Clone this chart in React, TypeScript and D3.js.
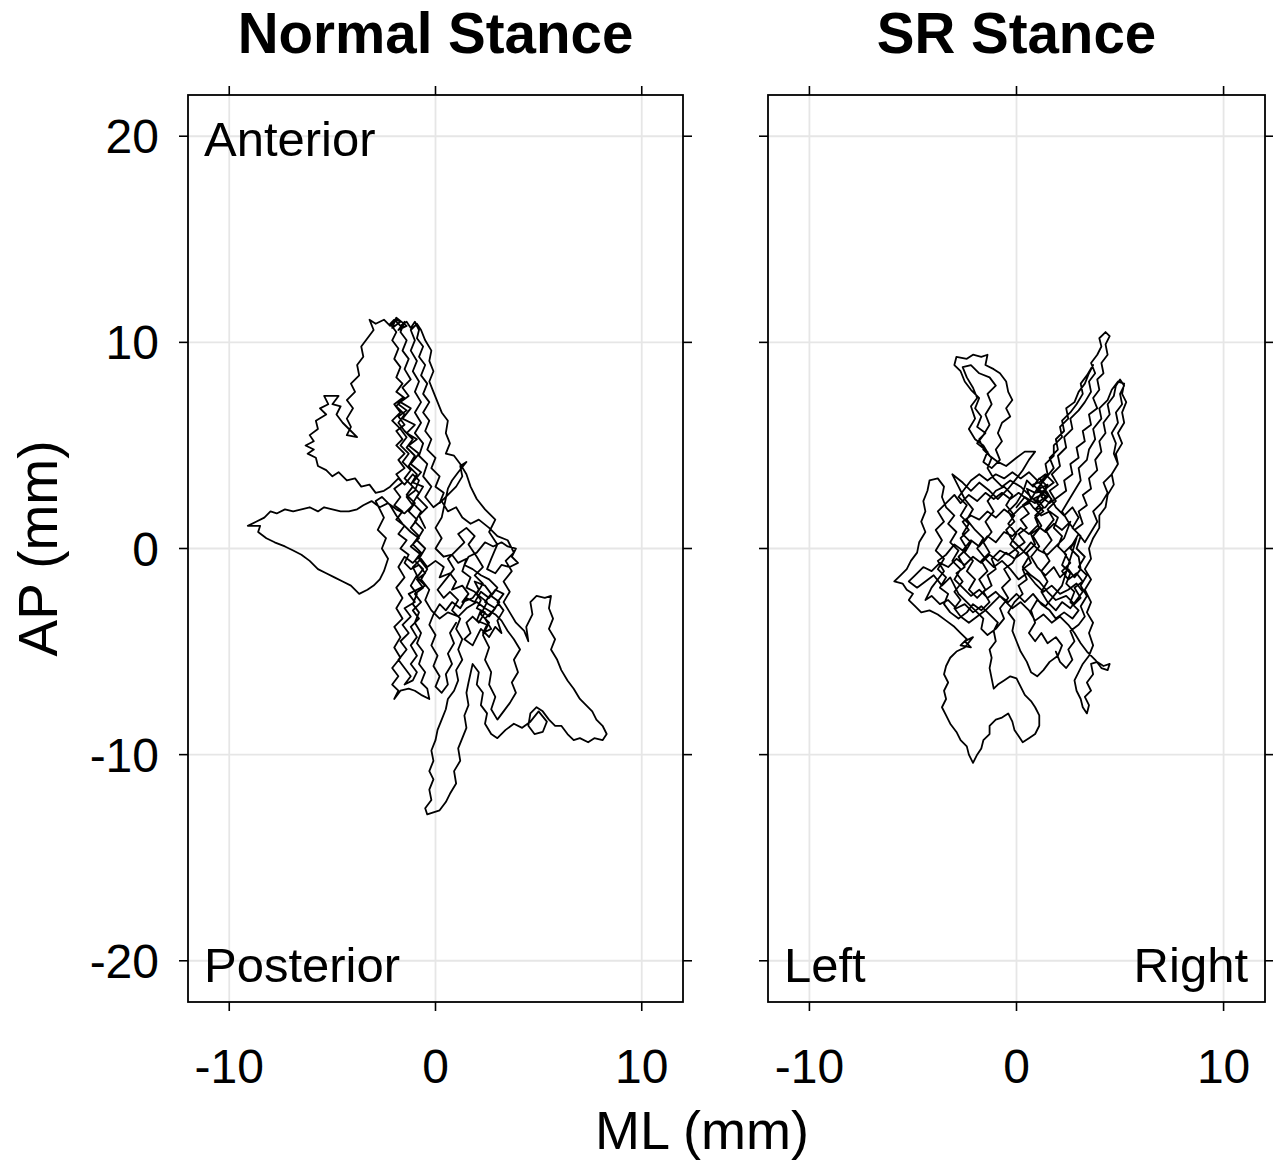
import React from 'react';
import * as d3 from 'd3';

// ---------- data (mm) ----------
const panelTitles = ['Normal Stance', 'SR Stance'];
const xTicks = [-10, 0, 10];
const yTicks = [-20, -10, 0, 10, 20];
const xDomain: [number, number] = [-12, 12];
const yDomain: [number, number] = [-22, 22];
const xAxisTitle = 'ML (mm)';
const yAxisTitle = 'AP (mm)';
const normalCornerLabels = ['Anterior', 'Posterior'];
const srCornerLabels = ['Left', 'Right'];

// centre-of-pressure trace, normal stance (ML, AP)
const normalStanceTrace: [number, number][] = [
  [-0.5,1.0],[-0.8,1.6],[-0.4,2.0],[-0.9,2.5],[-0.6,3.0],[-1.1,3.2],[-0.7,3.7],[-1.2,4.1],[-0.8,4.6],[-1.3,5.0],[-0.9,5.3],[-1.4,5.6],[-1.0,6.0],[-1.6,6.3],[-1.2,6.8],[-1.7,7.1],[-1.3,7.4],[-1.6,7.8],[-1.2,8.2],[-1.5,8.7],[-1.3,9.2],[-1.6,9.6],[-1.4,10.1],[-1.7,10.5],[-1.5,11.0],[-1.8,10.6],[-1.4,10.8],[-1.9,11.2],[-2.1,10.7],[-1.7,11.0],[-1.9,11.1],[-2.2,10.8],[-2.5,11.1],[-2.9,10.9],[-3.2,11.1],[-3.0,10.6],[-3.3,10.2],[-3.6,9.8],[-3.5,9.3],[-3.8,8.9],[-3.7,8.4],[-4.1,8.0],[-3.9,7.6],[-4.3,7.2],[-4.0,6.8],[-4.3,6.3],[-4.1,5.9],[-4.3,5.5],[-3.8,5.4],[-4.1,5.7],[-4.5,6.1],[-4.8,6.5],[-4.6,6.9],[-5.0,7.0],[-4.7,7.4],[-5.4,7.4],[-5.2,7.0],[-5.6,6.8],[-5.3,6.5],[-5.8,6.2],[-5.7,5.8],[-6.1,5.5],[-5.9,5.2],[-6.3,5.0],[-5.9,4.8],[-6.2,4.6],[-5.8,4.4],[-5.7,4.0],[-5.3,3.8],[-5.0,3.5],[-4.7,3.7],[-4.3,3.3],[-3.9,3.4],[-3.6,3.0],[-3.2,3.1],[-2.9,2.7],[-2.5,2.8],[-2.2,3.0],[-1.8,3.4],[-1.5,3.1],[-1.1,3.6],[-0.8,3.3],
  [-1.0,2.8],[-1.4,2.5],[-1.1,2.1],[-1.5,1.7],[-1.9,1.9],[-2.3,2.2],[-2.7,2.0],[-3.1,2.3],[-3.5,2.1],[-3.8,1.9],[-4.2,1.8],[-4.6,1.8],[-5.0,1.9],[-5.4,2.0],[-5.7,1.8],[-6.1,2.0],[-6.5,1.9],[-6.9,1.8],[-7.3,1.9],[-7.7,1.7],[-8.0,1.8],[-8.3,1.5],[-8.7,1.3],[-9.1,1.1],[-8.5,1.1],[-8.6,0.8],[-8.2,0.5],[-7.8,0.3],[-7.3,0.1],[-6.9,-0.1],[-6.5,-0.3],[-6.1,-0.6],[-5.7,-1.0],[-5.3,-1.2],[-4.9,-1.4],[-4.5,-1.6],[-4.1,-1.8],[-3.7,-2.2],[-3.3,-2.0],[-3.0,-1.8],[-2.7,-1.5],[-2.5,-1.1],[-2.3,-0.5],[-2.6,0.0],[-2.4,0.5],[-2.8,0.9],[-2.5,1.5],[-2.9,2.3],[-2.6,2.5],[-2.2,2.1],[-1.9,1.6],[-1.6,1.2],
  [-1.2,0.8],[-0.8,0.5],[-1.2,0.1],[-0.7,-0.3],[-1.1,-0.7],[-1.5,-0.4],[-1.8,-0.9],[-1.5,-1.4],[-1.9,-1.9],[-1.6,-2.4],[-1.9,-2.9],[-1.6,-3.4],[-2.0,-3.8],[-1.7,-4.3],[-2.0,-4.8],[-1.7,-5.3],[-2.1,-5.8],[-1.8,-6.2],[-2.1,-6.6],[-1.8,-6.9],[-2.0,-7.3],[-1.7,-6.9],[-1.3,-6.8],[-1.0,-6.9],[-0.7,-7.1],[-0.3,-7.3],[-0.4,-6.8],[-0.7,-6.5],[-0.5,-6.0],[-0.8,-5.6],[-0.6,-5.0],[-0.9,-4.6],[-0.7,-4.1],[-1.0,-3.6],[-0.8,-3.1],[-1.1,-2.7],[-0.9,-2.2],[-1.2,-1.8],[-0.9,-1.3],[-1.1,-0.9],[-0.7,-0.5],[-0.4,-0.9],
  [0.0,-0.6],[0.4,-0.9],[0.2,-1.4],[0.7,-1.2],[1.0,-1.6],[0.8,-2.0],[1.3,-1.8],[1.6,-2.2],[1.3,-2.6],[1.8,-2.4],[2.1,-2.0],[1.9,-1.6],[2.4,-1.8],[2.7,-2.2],[2.4,-2.6],[2.9,-2.9],[2.6,-3.3],[2.2,-3.0],[2.0,-3.5],[2.5,-3.7],[2.3,-4.1],[2.7,-3.9],[2.4,-3.4],[2.8,-3.0],[3.1,-2.6],[2.7,-2.3],[3.0,-1.9],[2.6,-1.5],[2.2,-1.3],[1.8,-1.0],[1.4,-0.8],[1.6,-0.4],[2.0,-0.2],[2.4,0.3],[2.8,0.1],[3.2,0.3],[3.5,0.1],[3.9,0.0],[3.7,-0.4],[4.0,-0.7],[3.6,-0.9],[3.2,-0.8],[2.9,-1.2],[2.5,-1.0],
  [2.7,-0.5],[3.0,0.2],[2.6,0.8],[2.9,1.4],[2.4,1.9],[2.0,2.4],[1.7,3.0],[1.5,3.6],[1.2,4.1],[0.9,4.5],[0.5,4.6],[0.7,5.1],[0.5,5.6],[0.6,6.2],[0.3,6.6],[0.1,7.1],[-0.1,7.6],[-0.3,8.1],[-0.1,8.6],[-0.3,9.1],[-0.2,9.6],[-0.5,10.1],[-0.7,10.6],[-0.9,10.9],[-1.2,10.6],[-1.0,10.1],[-1.2,9.6],[-0.9,9.1],[-1.1,8.6],[-0.8,8.1],[-1.0,7.6],[-0.7,7.1],[-1.0,6.6],[-0.7,6.1],[-1.0,5.6],[-0.6,5.1],[-0.8,4.5],[-0.4,4.1],[-0.6,3.5],[-0.2,3.0],[-0.5,2.5],[-0.1,2.0],[0.3,2.3],[0.6,1.8],[1.0,2.0],[1.3,1.5],[1.7,1.2],[2.1,1.4],[2.6,1.0],[3.0,0.6],[3.5,0.4],
  [3.8,-0.2],[3.4,-0.6],[3.7,-1.1],[3.3,-1.6],[3.6,-2.1],[3.3,-2.6],[3.6,-3.1],[3.9,-3.6],[4.3,-4.0],[4.5,-4.5],[4.4,-3.8],[4.7,-3.2],[4.6,-2.6],[4.9,-2.3],[5.3,-2.4],[5.6,-2.3],[5.5,-2.9],[5.7,-3.4],[5.5,-3.9],[5.8,-4.4],[5.6,-4.9],[5.9,-5.4],[6.1,-5.9],[6.4,-6.4],[6.7,-6.8],[7.0,-7.3],[7.3,-7.6],[7.6,-7.9],[7.8,-8.3],[8.1,-8.6],[8.3,-9.0],[8.1,-9.3],[7.7,-9.2],[7.4,-9.4],[7.0,-9.2],[6.7,-9.3],[6.4,-9.0],[6.1,-8.6],[5.8,-8.6],[5.5,-8.3],[5.2,-7.9],[4.9,-7.7],[4.6,-8.0],[4.5,-8.6],[4.8,-9.0],[5.2,-8.9],[5.4,-8.4],[5.0,-7.9],[4.6,-8.4],[4.2,-8.7],[3.8,-8.5],[3.4,-8.8],[3.0,-9.2],[2.7,-9.0],[2.4,-8.5],[2.5,-8.0],[2.2,-7.6],[2.3,-7.0],[2.0,-6.6],[2.1,-6.0],[1.8,-5.6],[1.6,-6.5],[1.5,-7.0],[1.6,-7.6],[1.4,-8.1],[1.5,-8.7],[1.3,-9.2],[1.1,-9.7],[1.2,-10.3],[0.9,-10.8],[1.0,-11.4],[0.7,-11.9],[0.5,-12.3],[0.2,-12.7],[-0.1,-12.8],[-0.4,-12.9],[-0.5,-12.6],[-0.2,-12.2],[-0.3,-11.7],[-0.1,-11.2],[-0.3,-10.8],[-0.1,-10.3],[-0.2,-9.8],[0.0,-9.3],[0.1,-8.8],[0.3,-8.3],[0.5,-7.8],[0.6,-7.3],[0.9,-6.9],[1.1,-6.4],[1.0,-5.9],[1.3,-5.4],[1.1,-4.9],[1.3,-4.4],[1.0,-3.9],[1.2,-3.4],[0.8,-3.0],[1.1,-2.5],[0.7,-2.1],
  [0.4,-2.4],[0.1,-2.0],[0.5,-1.5],[0.9,-1.0],[0.6,-0.5],[1.0,-0.1],[1.4,0.3],[1.1,0.7],[1.5,1.0],[1.9,0.6],[1.6,0.2],[2.0,-0.4],[2.3,-0.9],[1.9,-1.3],[2.3,-1.7],[2.0,-2.2],[2.5,-2.6],[2.2,-3.2],[2.6,-3.6],[2.3,-4.2],[2.6,-4.8],[2.4,-5.4],[2.7,-6.0],[2.6,-6.6],[2.9,-7.2],[2.7,-7.8],[3.0,-8.3],[3.3,-7.9],[3.6,-7.5],[3.9,-7.0],[3.7,-6.5],[4.0,-6.0],[3.8,-5.4],[4.1,-4.9],[3.8,-4.4],[3.5,-4.0],[3.2,-3.5],[2.9,-3.2],[2.4,-2.9],[2.0,-2.6],[1.5,-2.9],[1.1,-3.3],[0.6,-3.1],[0.2,-3.4],[-0.2,-3.0],[-0.5,-2.5],[-0.3,-2.0],[-0.7,-1.5],[-0.4,-1.0],[-0.8,-0.5],[-0.5,0.0],[-0.9,0.4],[-0.6,0.9],[-1.0,1.3],[-0.7,1.8],[-1.1,2.2],[-0.8,2.7],[-1.2,3.1],[-0.9,3.6],[-1.3,4.0],[-1.0,4.5],[-1.4,4.9],[-1.1,5.3],[-1.5,5.7],[-1.8,6.1],[-1.5,6.5],[-1.9,6.9],[-1.6,7.3],[-2.0,7.0],[-1.7,6.6],[-2.1,6.2],[-1.7,5.8],[-1.4,5.4],[-1.7,5.0],[-1.3,4.6],[-1.6,4.2],[-1.2,3.8],[-1.5,3.4],[-1.1,3.0],[-1.4,2.6],[-1.0,2.2],[-1.3,1.8],[-0.9,1.4],[-1.2,1.0],[-0.8,0.6],[-1.1,0.2],[-0.7,-0.2],[-1.0,-0.6],[-0.6,-1.0],[-0.9,-1.4],[-0.5,-1.8],
  [-1.3,-2.2],[-1.0,-2.6],[-1.5,-2.9],[-1.2,-3.3],[-1.6,-3.7],[-1.3,-4.1],[-1.7,-4.5],[-1.4,-4.9],[-1.8,-5.4],[-1.5,-5.8],[-1.2,-6.2],[-1.5,-6.6],[-1.1,-6.4],[-0.9,-6.0],[-1.2,-5.6],[-0.9,-5.2],[-1.2,-4.7],[-0.9,-4.3],[-1.2,-3.8],
  [-0.8,-3.4],[-1.1,-3.0],[-0.7,-2.6],[-1.0,-2.2],[-0.6,-1.9],[-0.9,-1.5],[-0.5,-1.2],[-0.8,-0.8],[-1.2,-1.0],[-1.5,-0.7],[-1.3,-0.3],[-1.7,0.0],[-1.4,0.4],[-1.8,0.7],[-1.5,1.1],[-1.9,1.4],[-1.6,1.8],[-2.0,2.1],[-1.7,2.5],[-2.0,2.9],[-1.6,3.2],[-1.9,3.6],[-1.5,3.9],[-1.8,4.3],[-1.5,4.6],[-1.9,5.0],[-1.6,5.3],[-1.9,5.7],[-1.5,6.0],[-1.8,6.4],[-1.4,6.7],[-1.8,7.0],[-1.5,7.3],[-1.9,7.6],[-1.6,8.0],[-1.9,8.3],[-1.7,8.8],[-2.0,9.2],[-1.8,9.7],[-2.1,10.1],[-1.9,10.5],[-2.2,10.9],[-2.0,11.1],[-1.7,10.8],[-1.4,11.0],[-1.2,10.7],[-1.0,11.0],[-0.8,10.6],
  [-0.9,10.2],[-0.6,9.8],[-0.8,9.3],[-0.5,8.9],[-0.7,8.4],[-0.4,8.0],[-0.6,7.5],[-0.3,7.1],[-0.6,6.6],[-0.3,6.2],[-0.5,5.7],[-0.2,5.3],[-0.4,4.8],[0.0,4.4],[-0.2,3.9],[0.2,3.5],[0.0,3.0],[0.4,2.7],[0.2,2.2],[0.6,2.6],[1.0,3.0],[1.3,3.5],[1.2,4.0],[1.5,4.2],[1.1,3.7],[0.8,3.3],[0.6,2.9],
  [0.3,1.5],[0.0,1.0],[0.3,0.5],[0.0,0.0],[0.4,-0.4],[0.8,-0.3],[1.1,-0.7],[1.5,-0.5],[1.3,-1.1],[1.7,-1.4],[1.5,-1.9],[1.9,-2.1],[2.2,-2.5],[2.0,-2.9],[2.4,-3.1],[2.1,-3.6],[1.8,-3.3],[1.5,-3.6],[1.7,-4.1],[1.4,-4.4],[1.8,-4.7],[2.0,-4.3],[2.2,-3.9],[2.6,-4.3],[2.9,-3.8],[3.2,-4.1],[3.0,-3.5],[3.3,-3.0],[3.0,-2.6],[3.3,-2.2],[2.9,-2.0],[2.6,-2.4],[2.2,-2.1],[1.9,-2.6],[1.5,-2.4],[1.2,-2.9],[0.8,-2.6],[0.5,-3.0],[0.2,-2.7],[-0.1,-3.2],[-0.3,-3.7],[0.0,-4.2],[-0.2,-4.7],[0.1,-5.2],[-0.1,-5.7],[0.2,-6.2],[0.0,-6.7],[0.3,-7.0],[0.6,-6.6],[0.5,-6.1],[0.8,-5.6],[0.6,-5.1],[0.9,-4.6],[0.7,-4.1],[1.0,-3.6],
];

// centre-of-pressure trace, SR stance (ML, AP)
const srStanceTrace: [number, number][] = [
  [0.0,2.0],[0.4,2.5],[0.9,2.2],[1.2,2.7],[0.8,3.1],[1.3,3.3],[1.0,2.8],[1.5,2.5],[1.1,2.1],[0.6,2.6],[0.2,3.0],[-0.3,3.3],[-0.7,3.0],[-1.1,3.4],[-1.4,3.9],[-1.2,4.4],[-1.6,4.8],[-1.8,5.3],[-1.5,5.6],[-1.9,5.9],[-1.7,6.4],[-2.0,6.8],[-1.8,7.3],[-2.2,7.7],[-2.5,8.1],[-2.7,8.6],[-3.0,8.9],[-2.9,9.3],[-2.4,9.2],[-2.1,9.4],[-1.7,9.3],[-1.4,9.4],[-1.5,8.9],[-1.1,8.7],[-0.8,8.5],[-0.5,8.1],[-0.4,7.6],[-0.2,7.2],[-0.5,6.8],[-0.3,6.4],[-0.7,6.1],[-0.9,5.6],[-0.7,5.2],[-1.0,4.8],[-0.8,4.3],[-1.2,3.9],
  [-1.6,4.2],[-1.4,4.7],[-1.9,5.1],[-1.6,5.5],[-1.3,6.0],[-1.5,6.5],[-1.2,7.0],[-1.4,7.5],[-1.0,7.9],[-1.3,8.3],[-1.8,8.5],[-2.2,8.9],[-2.6,8.8],[-2.4,8.3],[-2.1,7.8],[-1.9,7.3],[-2.2,6.9],[-2.0,6.3],[-2.3,5.8],[-2.0,5.3],[-1.6,5.0],[-1.3,4.5],[-0.9,4.2],[-0.5,4.0],[0.0,4.4],[0.4,4.7],[0.9,4.7],[0.6,4.3],[0.3,3.8],[0.0,3.4],
  [-0.4,2.9],[-0.9,2.4],[-1.3,2.8],[-1.8,3.2],[-2.2,2.8],[-2.6,3.2],[-3.1,3.6],[-2.8,3.0],[-2.5,2.4],[-2.1,1.9],[-2.4,1.4],[-2.0,0.9],[-1.6,0.5],[-1.9,0.0],[-1.5,-0.5],[-1.1,-0.9],[-0.7,-0.6],[-0.3,-1.0],[0.1,-1.5],[0.5,-1.2],[0.9,-1.7],[1.3,-2.1],[1.7,-1.8],[2.1,-2.2],[2.5,-2.0],[2.9,-1.7],[3.2,-2.1],[2.9,-2.5],[2.6,-2.9],[2.2,-2.6],[1.9,-3.0],
  [1.5,-2.6],[1.2,-2.1],[1.5,-1.6],[1.2,-1.1],[1.6,-0.6],[1.3,-0.1],[1.7,0.4],[1.4,0.9],[1.8,1.4],[1.5,1.9],[1.9,2.3],[1.6,2.8],[2.0,3.1],[1.7,3.6],[2.1,4.0],[2.0,4.5],[2.4,4.9],[2.3,5.4],[2.7,5.8],[2.6,6.3],[3.0,6.7],[3.3,7.1],[3.6,7.6],[3.5,8.1],[3.8,8.5],[3.6,9.0],[3.9,9.4],[4.1,9.8],[4.0,10.2],[4.3,10.5],[4.5,10.3],[4.3,9.9],[4.4,9.4],[4.1,9.0],[4.2,8.5],[3.9,8.2],[4.0,7.7],[3.7,7.3],[3.9,6.8],[3.5,6.5],[3.6,6.0],[3.2,5.7],[3.3,5.2],[2.9,4.9],[3.0,4.4],[2.6,4.1],[2.7,3.6],[2.3,3.3],[2.4,2.8],[2.0,2.5],[1.6,2.2],[1.2,2.5],[1.5,3.0],[1.1,3.4],[0.8,3.0],[0.5,3.3],[0.3,2.7],
  [0.0,2.2],[-0.4,1.8],[-0.1,1.3],[-0.5,0.9],[-0.2,0.4],[0.2,0.0],[0.6,-0.4],[0.3,-0.9],[0.7,-1.3],[1.1,-1.6],[1.5,-2.1],[1.9,-2.5],[2.4,-2.3],[2.8,-2.7],[3.1,-2.4],[2.8,-1.9],[3.2,-1.6],[2.9,-1.2],[2.5,-1.5],[2.2,-1.1],[2.6,-0.7],[2.3,-0.2],
  [2.7,0.2],[3.0,0.7],[3.3,0.3],[3.6,0.8],[3.9,1.3],[3.7,1.8],[4.1,2.2],[4.4,2.7],[4.2,3.2],[4.6,3.6],[4.9,4.1],[4.7,4.6],[4.8,5.1],[4.6,5.6],[4.9,6.1],[4.8,6.6],[5.1,7.0],[5.0,7.5],[5.2,7.9],[5.0,8.2],[4.8,7.9],[4.7,7.4],[4.4,7.0],[4.5,6.5],[4.2,6.1],[4.3,5.6],[4.0,5.2],[4.1,4.7],[3.8,4.3],[3.9,3.8],[3.5,3.4],[3.6,2.9],[3.2,2.6],[3.4,2.1],[3.0,1.8],[3.2,1.2],[2.8,0.9],
  [2.5,1.3],[2.2,1.8],[2.5,2.3],[2.8,2.8],[3.1,3.3],[3.0,3.9],[3.4,4.3],[3.5,4.8],[3.8,5.3],[3.7,5.8],[4.1,6.3],[4.0,6.8],[4.4,7.2],[4.6,7.7],[4.9,8.1],[5.2,8.0],[5.1,7.5],[5.3,7.1],[5.1,6.6],[5.2,6.1],[4.9,5.6],[5.1,5.1],[4.8,4.6],[4.9,4.1],[4.6,3.6],[4.7,3.1],[4.4,2.6],[4.3,2.0],[4.0,1.6],[4.0,1.0],[3.7,0.5],[3.5,0.0],[3.6,-0.5],[3.3,-1.0],[3.6,-1.5],[3.3,-2.0],[3.6,-2.6],[3.4,-3.1],[3.7,-3.6],[3.5,-4.1],[3.7,-4.7],[3.5,-5.2],
  [3.2,-5.6],[3.0,-6.0],[2.8,-6.4],[2.9,-6.9],[3.1,-7.3],[3.2,-7.7],[3.4,-8.0],[3.5,-7.6],[3.3,-7.2],[3.6,-6.9],[3.4,-6.5],[3.7,-6.1],[3.6,-5.6],[3.9,-5.5],[4.2,-5.7],[4.5,-5.6],[4.4,-5.9],[4.1,-5.8],[3.8,-5.4],[3.4,-5.0],[3.1,-4.6],[2.8,-4.1],[2.5,-3.7],[2.1,-3.3],[1.7,-3.6],[1.3,-3.2],[0.9,-3.5],[0.6,-3.0],[0.2,-2.6],[-0.2,-2.9],[-0.6,-2.5],[-1.0,-2.1],[-1.4,-2.4],[-1.8,-2.0],[-2.2,-2.3],[-2.6,-1.9],
  [-3.0,-1.5],[-2.7,-1.0],[-3.1,-0.6],[-2.8,-0.1],[-3.2,0.3],[-2.9,0.8],[-3.3,1.2],[-3.0,1.6],[-3.4,2.0],[-3.6,2.5],[-3.5,3.0],[-3.8,3.4],[-4.2,3.3],[-4.3,2.8],[-4.5,2.3],[-4.4,1.8],[-4.6,1.3],[-4.4,0.8],[-4.7,0.3],[-4.8,-0.2],[-5.1,-0.6],[-5.3,-1.0],[-5.6,-1.3],[-5.9,-1.6],[-5.5,-1.7],[-5.3,-2.0],[-5.0,-2.2],[-5.2,-2.5],[-4.9,-2.8],[-4.6,-3.1],[-4.2,-3.0],[-3.8,-3.2],[-3.4,-3.5],[-3.0,-3.8],[-2.7,-4.1],[-2.4,-4.4],[-2.7,-4.7],[-2.2,-4.8],[-2.5,-4.5],[-2.1,-4.3],
  [-2.5,-4.8],[-2.9,-5.0],[-3.2,-5.3],[-3.4,-5.7],[-3.5,-6.1],[-3.3,-6.5],[-3.5,-6.9],[-3.4,-7.3],[-3.6,-7.7],[-3.4,-8.1],[-3.2,-8.5],[-2.9,-8.9],[-2.7,-9.3],[-2.4,-9.6],[-2.3,-10.0],[-2.1,-10.4],[-1.9,-10.0],[-1.7,-9.7],[-1.6,-9.3],[-1.3,-9.0],[-1.3,-8.6],[-1.0,-8.3],[-0.7,-8.2],[-0.4,-8.0],[-0.2,-8.4],[-0.1,-8.8],[0.1,-9.1],[0.3,-9.4],[0.6,-9.2],[0.9,-9.0],[1.1,-8.6],[1.1,-8.1],[0.9,-7.7],[0.7,-7.4],[0.4,-7.1],[0.2,-6.7],[0.0,-6.3],[-0.3,-6.2],[-0.6,-6.4],[-0.9,-6.6],[-1.1,-6.8],[-1.2,-6.3],[-1.3,-5.8],[-1.2,-5.3],[-1.3,-4.9],[-1.0,-4.5],[-1.1,-4.0],[-0.9,-3.6],
  [-1.3,-3.2],[-1.7,-2.8],[-2.1,-3.1],[-2.5,-2.7],[-2.9,-2.9],[-3.3,-2.5],[-3.7,-2.7],[-4.1,-2.3],[-4.4,-2.5],[-4.1,-1.9],[-3.8,-1.5],[-3.5,-1.1],[-3.8,-0.6],[-3.4,-0.3],[-3.0,0.2],[-2.6,-0.1],[-2.2,0.4],[-1.8,0.1],[-1.4,0.6],[-1.0,0.3],[-0.6,0.8],[-0.2,0.6],[0.2,1.0],[0.6,0.7],[1.0,1.1],[1.4,0.8],[1.8,1.2],[2.2,0.9],[2.6,1.3],
  [2.3,0.5],[1.9,0.1],[1.5,-0.3],[1.1,-0.1],[0.7,0.3],[0.3,-0.2],[-0.1,-0.5],[-0.5,-0.2],[-0.9,-0.6],[-1.3,-0.3],[-1.7,-0.7],[-2.1,-0.4],[-2.5,-0.8],[-2.9,-0.5],[-3.3,-0.9],[-3.7,-0.7],[-4.1,-1.1],[-4.5,-0.9],[-4.9,-1.3],[-5.2,-1.6],
  [-4.8,-1.9],[-4.4,-1.6],[-4.0,-1.3],[-3.6,-1.8],[-3.2,-1.4],[-2.8,-2.2],[-2.4,-2.6],[-2.0,-3.0],[-1.6,-3.4],[-1.7,-3.9],[-1.4,-4.2],[-1.0,-3.9],
  [-0.6,-3.4],[-0.8,-2.9],[-0.4,-2.4],[-0.7,-1.9],[-0.3,-1.5],[-0.6,-1.0],[-0.2,-0.7],[0.1,-0.2],[-0.3,0.2],[0.0,0.7],[-0.4,1.2],[-0.1,1.6],[-0.5,2.1],[-0.2,2.6],[-0.6,3.0],[-1.0,2.8],[-1.4,2.3],[-1.1,1.8],[-1.5,1.3],[-1.2,0.8],[-1.6,0.3],[-1.3,-0.2],[-1.7,-0.6],[-1.4,-1.1],[-1.8,-1.5],[-1.5,-2.0],[-1.9,-2.4],[-2.3,-2.0],[-2.0,-1.5],[-2.4,-1.1],[-2.1,-0.6],[-2.5,-0.2],[-2.2,0.3],[-2.6,0.7],[-2.3,1.2],[-2.7,1.6],[-2.4,2.1],[-2.8,2.5],[-2.5,2.9],[-2.2,3.3],[-1.8,3.6],[-1.4,3.3],[-1.0,3.6],[-0.6,3.4],[-0.2,3.7],[0.2,3.4],[0.6,3.7],[1.0,3.3],[1.4,3.6],[1.8,3.2],[1.4,2.9],[1.0,2.4],[1.3,2.0],[0.9,1.6],[1.2,1.1],[0.8,0.6],[1.1,0.1],[0.7,-0.4],[1.0,-0.9],[1.4,-1.3],[1.8,-0.9],[2.1,-1.4],[2.5,-1.0],[2.8,-1.4],[3.1,-1.0],[3.0,-0.4],[2.6,0.0],[2.9,0.5],
  [2.2,-1.8],[1.8,-2.3],[1.4,-2.8],[1.0,-2.5],[0.7,-3.0],[0.9,-3.6],[0.6,-4.1],[0.9,-4.5],[1.2,-4.1],[1.5,-4.6],[1.9,-4.3],[2.2,-4.7],[2.0,-5.2],[1.6,-5.5],[1.3,-5.9],[1.0,-6.2],[0.7,-6.0],[0.5,-5.5],[0.2,-5.0],[0.0,-4.5],[-0.2,-4.0],[-0.1,-3.5],[-0.4,-3.1],
  [-0.1,-2.6],[0.3,-2.2],[0.1,-1.8],[0.5,-1.5],[0.3,-1.0],[0.7,-0.7],[0.5,-0.2],[0.9,0.2],[0.7,0.7],[1.1,1.0],[0.9,1.5],[1.3,1.8],[1.0,2.2],[1.4,2.5],[1.1,2.9],[1.5,3.1],[1.2,2.6],[0.8,2.4],[1.2,2.2],[0.9,1.9],[1.4,2.0],[1.7,2.4],[1.3,2.8],[0.9,2.7],[0.5,2.9],[0.7,2.4],[0.3,2.1],[0.6,1.7],[0.2,1.4],[0.5,1.0],[0.1,0.7],[0.4,0.3],[0.0,0.0],[-0.4,-0.3],[-0.8,-0.1],[-1.2,-0.5],[-1.0,-1.0],[-1.4,-1.3],[-1.2,-1.8],[-1.6,-2.1],[-1.3,-2.6],[-1.7,-3.0],[-2.1,-2.7],[-2.4,-3.1],[-2.8,-3.4],[-3.2,-3.1],[-3.5,-2.7],[-3.3,-2.2],[-3.7,-1.9],[-3.4,-1.4],[-3.8,-1.0],[-3.5,-0.5],[-3.9,-0.1],[-3.6,0.4],[-3.9,0.9],[-3.5,1.3],[-3.8,1.8],[-3.4,2.2],[-3.0,2.6],[-2.7,2.2],[-2.3,2.6],[-1.9,2.3],[-1.5,2.7],[-1.1,2.4],[-0.7,2.7],[-0.3,2.4],[0.1,2.7],[0.5,2.4],
  [0.8,2.0],[1.2,1.6],[1.6,1.8],[2.0,1.5],[1.8,1.0],[2.2,0.6],[2.0,0.1],[2.4,-0.3],[2.2,-0.8],[2.6,-1.2],[2.4,-1.7],[2.8,-2.1],[2.6,-2.6],[3.0,-3.0],[2.7,-3.4],[2.3,-3.1],[1.9,-3.4],[1.6,-3.0],[1.2,-2.7],[0.8,-2.2],[0.4,-2.6],[0.0,-2.2],[-0.4,-2.6],[-0.8,-2.3],[-1.2,-2.7],[-1.5,-3.0],
  [-1.9,-3.3],[-2.3,-3.6],[-2.7,-3.3],[-3.0,-2.9],[-2.7,-2.5],[-3.0,-2.1],[-2.6,-1.6],[-2.9,-1.2],[-2.5,-0.9],[-2.8,-0.4],[-2.4,0.0],[-2.7,0.5],[-2.3,0.9],[-2.6,1.3],[-2.2,1.6],[-1.8,1.4],[-1.4,1.8],[-1.0,1.5],[-0.6,1.9],[-0.2,1.6],[0.2,2.0],
  [0.6,2.2],[1.0,2.9],[1.4,3.4],[1.8,3.9],[1.6,4.4],[2.0,4.8],[1.9,5.3],[2.3,5.7],[2.2,6.2],[2.6,6.6],[2.9,7.0],[3.2,7.5],[3.1,8.0],[3.4,8.4],[3.7,8.9],[3.5,8.5],[3.3,8.0],[3.0,7.6],[2.8,7.1],[2.4,6.8],[2.5,6.3],[2.1,5.9],[2.2,5.4],[1.8,5.0],[1.8,4.5],[1.4,4.1],[1.5,3.6],[1.1,3.2],
  [1.5,2.7],[1.9,2.0],[2.3,1.6],[2.7,2.0],[3.0,1.5],[2.7,1.0],[3.1,0.6],[2.9,0.0],[3.3,-0.4],[3.0,-0.9],[3.4,-1.3],[3.1,-1.8],[3.4,-2.3],[3.1,-2.8],[3.3,-3.3],[3.0,-3.7],[2.6,-4.0],[2.8,-4.5],[2.5,-4.9],[2.7,-5.4],[2.4,-5.8],[2.1,-5.5],[1.9,-5.0],
];

// ---------- layout ----------
const W = 1273;
const H = 1164;
const PLOT_TOP = 95;
const PLOT_BOTTOM = 1002;
const FONT = "'Liberation Sans', Arial, Helvetica, sans-serif";
const TICK = 9;

type PanelDef = {
  title: string;
  data: [number, number][];
  left: number;
  right: number;
  corners: { text: string; pos: 'tl' | 'bl' | 'br' }[];
  showYLabels: boolean;
};

function Panel({ p, y }: { p: PanelDef; y: d3.ScaleLinear<number, number> }) {
  const x = d3.scaleLinear().domain(xDomain).range([p.left, p.right]);
  const line = d3
    .line<[number, number]>()
    .x((d) => x(d[0]))
    .y((d) => y(d[1]));
  const cx = (p.left + p.right) / 2;
  return (
    <g>
      {xTicks.map((t) => (
        <line key={'gx' + t} x1={x(t)} x2={x(t)} y1={PLOT_TOP} y2={PLOT_BOTTOM} stroke="#e6e6e6" strokeWidth={1.8} />
      ))}
      {yTicks.map((t) => (
        <line key={'gy' + t} x1={p.left} x2={p.right} y1={y(t)} y2={y(t)} stroke="#e6e6e6" strokeWidth={1.8} />
      ))}
      <path d={line(p.data) || ''} fill="none" stroke="#000" strokeWidth={1.8} strokeLinejoin="round" strokeLinecap="round" />
      <rect x={p.left} y={PLOT_TOP} width={p.right - p.left} height={PLOT_BOTTOM - PLOT_TOP} fill="none" stroke="#000" strokeWidth={1.8} />
      {xTicks.map((t) => (
        <g key={'tx' + t}>
          <line x1={x(t)} x2={x(t)} y1={PLOT_BOTTOM} y2={PLOT_BOTTOM + TICK} stroke="#000" strokeWidth={1.6} />
          <line x1={x(t)} x2={x(t)} y1={PLOT_TOP} y2={PLOT_TOP - TICK} stroke="#000" strokeWidth={1.6} />
          <text x={x(t)} y={1083} textAnchor="middle" fontSize={48} fontFamily={FONT} fill="#000">
            {t}
          </text>
        </g>
      ))}
      {yTicks.map((t) => (
        <g key={'ty' + t}>
          <line x1={p.left - TICK} x2={p.left} y1={y(t)} y2={y(t)} stroke="#000" strokeWidth={1.6} />
          <line x1={p.right} x2={p.right + TICK} y1={y(t)} y2={y(t)} stroke="#000" strokeWidth={1.6} />
          {p.showYLabels && (
            <text x={p.left - 29} y={y(t) + 17} textAnchor="end" fontSize={48} fontFamily={FONT} fill="#000">
              {t}
            </text>
          )}
        </g>
      ))}
      {p.corners.map((c) => {
        const tx = c.pos === 'br' ? p.right - 17 : p.left + 16;
        const ty = c.pos === 'tl' ? 156 : 982;
        return (
          <text key={c.text} x={tx} y={ty} textAnchor={c.pos === 'br' ? 'end' : 'start'} fontSize={49} fontFamily={FONT} fill="#000">
            {c.text}
          </text>
        );
      })}
      <text x={cx} y={53} textAnchor="middle" fontSize={56.5} fontWeight="bold" fontFamily={FONT} fill="#000">
        {p.title}
      </text>
    </g>
  );
}

export default function App() {
  const y = d3.scaleLinear().domain(yDomain).range([PLOT_BOTTOM, PLOT_TOP]);
  const panels: PanelDef[] = [
    {
      title: panelTitles[0],
      data: normalStanceTrace,
      left: 188,
      right: 683,
      corners: [
        { text: normalCornerLabels[0], pos: 'tl' },
        { text: normalCornerLabels[1], pos: 'bl' },
      ],
      showYLabels: true,
    },
    {
      title: panelTitles[1],
      data: srStanceTrace,
      left: 768,
      right: 1265,
      corners: [
        { text: srCornerLabels[0], pos: 'bl' },
        { text: srCornerLabels[1], pos: 'br' },
      ],
      showYLabels: false,
    },
  ];
  return (
    <svg
      width={W}
      height={H}
      viewBox={`0 0 ${W} ${H}`}
      style={{ position: 'absolute', left: 0, top: 0, background: '#fff', display: 'block' }}
    >
      <rect x={0} y={0} width={W} height={H} fill="#fff" />
      {panels.map((p) => (
        <Panel key={p.title} p={p} y={y} />
      ))}
      <text x={702} y={1149} textAnchor="middle" fontSize={54} fontFamily={FONT} fill="#000">
        {xAxisTitle}
      </text>
      <text
        transform={`translate(57, ${y(0)}) rotate(-90)`}
        textAnchor="middle"
        fontSize={55}
        fontFamily={FONT}
        fill="#000"
      >
        {yAxisTitle}
      </text>
    </svg>
  );
}
